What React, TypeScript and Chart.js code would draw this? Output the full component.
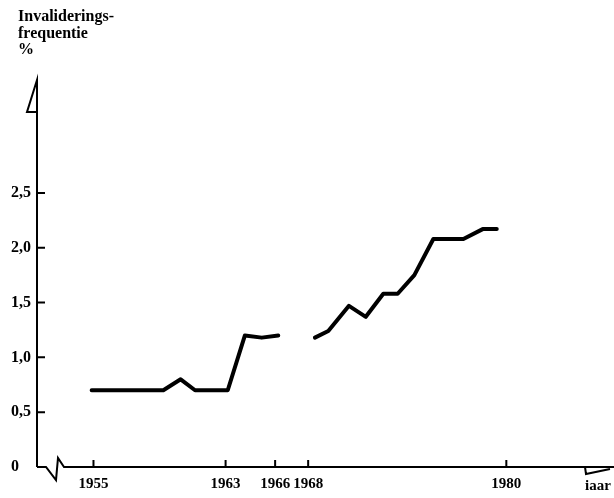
import React, { useEffect, useRef } from "react";
import { Chart, registerables } from "chart.js";
Chart.register(...registerables);

// Data (x = position on the drawn time axis, in years)
const years1 = [1954.89, 1959.23, 1960.28, 1961.15, 1963.13, 1964.17, 1965.19, 1966.19];
const values1 = [0.7, 0.7, 0.8, 0.7, 0.7, 1.2, 1.18, 1.2];
const years2 = [1968.41, 1969.22, 1970.47, 1971.49, 1972.55, 1973.42, 1974.43, 1975.58, 1977.4, 1978.57, 1979.42];
const values2 = [1.18, 1.24, 1.47, 1.37, 1.58, 1.58, 1.75, 2.08, 2.08, 2.17, 2.17];
const gapYear = 1967.3;

const xTickYears = [1955, 1963, 1966, 1968, 1980];
const yTickValues = [0, 0.5, 1.0, 1.5, 2.0, 2.5];
const titleLines = ["Invaliderings-", "frequentie", "%"];
const xAxisLabel = "iaar";

const FONT_FAMILY = "'Liberation Serif', 'DejaVu Serif', serif";

const decorPlugin = {
  id: "axesDecor",
  afterDraw(chart: any) {
    const { ctx, chartArea, scales } = chart;
    const xs = scales.x;
    const ys = scales.y;
    const { left, bottom, top, right } = chartArea;
    ctx.save();
    ctx.strokeStyle = "#000";
    ctx.lineWidth = 2;
    ctx.lineJoin = "miter";
    ctx.lineCap = "butt";
    // y axis with half arrow on top
    ctx.beginPath();
    ctx.moveTo(left, bottom);
    ctx.lineTo(left, top);
    ctx.lineTo(left - 10, top + 32);
    ctx.lineTo(left, top + 32);
    ctx.stroke();
    // x axis with break near origin
    ctx.beginPath();
    ctx.moveTo(left, bottom);
    ctx.lineTo(left + 9, bottom);
    ctx.lineTo(left + 19, bottom + 13);
    ctx.lineTo(left + 21, bottom - 9);
    ctx.lineTo(left + 27, bottom);
    ctx.lineTo(right, bottom);
    ctx.stroke();
    // half arrow at right end
    ctx.beginPath();
    ctx.moveTo(right - 29, bottom);
    ctx.lineTo(right - 28, bottom + 7);
    ctx.lineTo(right - 4, bottom + 2);
    ctx.stroke();
    // y ticks
    ctx.beginPath();
    for (const v of yTickValues) {
      if (v === 0) continue;
      const py = ys.getPixelForValue(v);
      ctx.moveTo(left, py);
      ctx.lineTo(left + 8, py);
    }
    // x ticks
    for (const yr of xTickYears) {
      const px = xs.getPixelForValue(yr);
      ctx.moveTo(px, bottom);
      ctx.lineTo(px, bottom - 7);
    }
    ctx.stroke();
    // title
    ctx.fillStyle = "#000";
    ctx.font = `bold 16px ${FONT_FAMILY}`;
    ctx.textAlign = "left";
    ctx.textBaseline = "middle";
    titleLines.forEach((t, i) => ctx.fillText(t, 18, 17 + i * 16.5));
    // x axis label
    ctx.font = `bold 15px ${FONT_FAMILY}`;
    ctx.textAlign = "center";
    ctx.fillText(xAxisLabel, 598, 486);
    ctx.restore();
  },
};

export default function App() {
  const ref = useRef<HTMLCanvasElement | null>(null);
  useEffect(() => {
    if (!ref.current) return;
    const data = [
      ...years1.map((x, i) => ({ x, y: values1[i] })),
      { x: gapYear, y: null as any },
      ...years2.map((x, i) => ({ x, y: values2[i] })),
    ];
    const tickFont = { family: FONT_FAMILY, size: 15, weight: "bold" as const };
    const yTickFont = { family: FONT_FAMILY, size: 16, weight: "bold" as const };
    const chart = new Chart(ref.current, {
      type: "line",
      data: {
        datasets: [
          {
            data,
            borderColor: "#000",
            borderWidth: 4,
            borderCapStyle: "round",
            borderJoinStyle: "round",
            pointRadius: 0,
            tension: 0,
            spanGaps: false,
            fill: false,
          },
        ],
      },
      options: {
        animation: false,
        responsive: false,
        maintainAspectRatio: false,
        layout: { padding: { top: 80, right: 0, left: 0, bottom: 0 } },
        plugins: { legend: { display: false }, tooltip: { enabled: false } },
        scales: {
          x: {
            type: "linear",
            min: 1951.58,
            max: 1986.52,
            grid: { display: false, drawTicks: false },
            border: { display: false },
            afterBuildTicks: (s: any) => {
              s.ticks = xTickYears.map((v) => ({ value: v }));
            },
            afterFit: (s: any) => {
              s.height = 31;
            },
            ticks: {
              autoSkip: false,
              maxRotation: 0,
              padding: 8,
              color: "#000",
              font: tickFont,
              callback: (v: any) => String(v),
            },
          },
          y: {
            type: "linear",
            min: 0,
            max: 3.53,
            grid: { display: false, drawTicks: false },
            border: { display: false },
            afterBuildTicks: (s: any) => {
              s.ticks = yTickValues.map((v) => ({ value: v }));
            },
            afterFit: (s: any) => {
              s.width = 37;
            },
            ticks: {
              autoSkip: false,
              padding: 6,
              color: "#000",
              font: yTickFont,
              callback: (v: any) => (v === 0 ? "0   " : Number(v).toFixed(1).replace(".", ",")),
            },
          },
        },
      },
      plugins: [decorPlugin],
    });
    return () => chart.destroy();
  }, []);
  return (
    <div style={{ position: "fixed", left: 0, top: 0, width: 614, height: 498, background: "#fff" }}>
      <canvas ref={ref} width={614} height={498} style={{ width: 614, height: 498 }} />
    </div>
  );
}
